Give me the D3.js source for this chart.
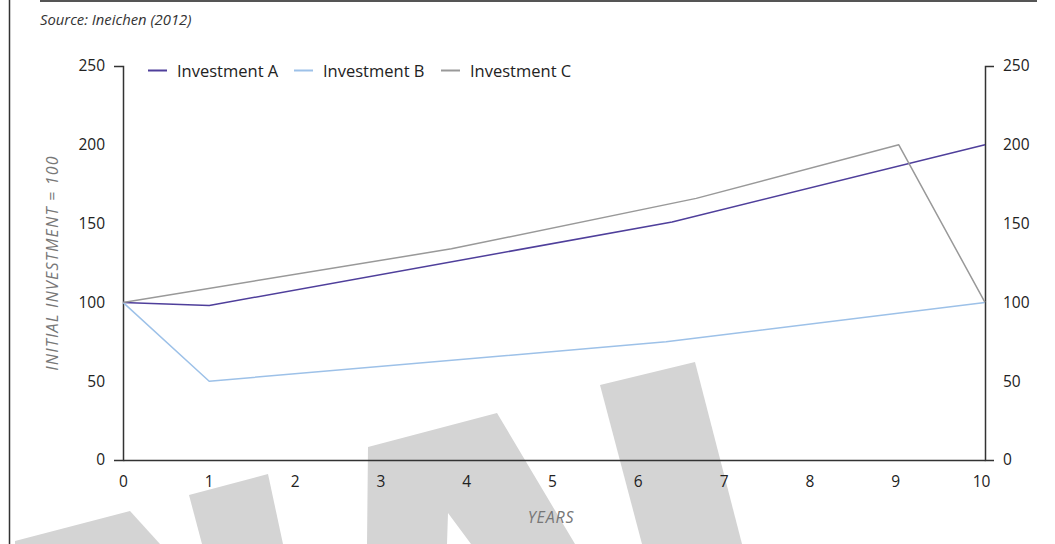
<!DOCTYPE html>
<html>
<head>
<meta charset="utf-8">
<script src="https://cdn.jsdelivr.net/npm/d3@7"></script>
<style>
  html, body { margin: 0; padding: 0; background: #fff; }
  svg { display: block; }
  text { font-family: "Open Sans", "Noto Sans", sans-serif; }
</style>
</head>
<body>
<svg id="chart" width="1055" height="544"></svg>
<script>
// ---- data ----
const seriesNames = ["Investment A", "Investment B", "Investment C"];
const yearsA = [0, 1, 6.37, 10];
const valuesA = [100, 98, 151, 200];
const yearsB = [0, 1, 6.3, 10];
const valuesB = [100, 50, 75, 100];
const yearsC = [0, 3.81, 6.65, 9, 10];
const valuesC = [100, 134, 166, 200, 100];
const xTicks = [0, 1, 2, 3, 4, 5, 6, 7, 8, 9, 10];
const yTicks = [0, 50, 100, 150, 200, 250];
const sourceText = "Source: Ineichen (2012)";
const xTitle = "YEARS";
const yTitle = "INITIAL INVESTMENT = 100";

const colors = ["#4f3f9b", "#9dc1e8", "#999999"];

const svg = d3.select("#chart");

// decorative watermark (background, not data)
const wm = svg.append("g").attr("fill", "#d4d4d4");
[
  [[15,544],[15,541],[130,511],[160,544]],
  [[202,544],[189,495],[268,474],[283,544]],
  [[367,544],[368,447],[497,413],[575,544],[471,544],[448,513],[447,544]],
  [[642,544],[600,385],[695,362],[742,544]]
].forEach(p => wm.append("path").attr("d", d3.line()(p)));

// frame lines
svg.append("line").attr("x1", 40).attr("x2", 1037).attr("y1", 1).attr("y2", 1)
  .attr("stroke", "#555").attr("stroke-width", 2);
svg.append("line").attr("x1", 9.5).attr("x2", 9.5).attr("y1", 0).attr("y2", 544)
  .attr("stroke", "#333").attr("stroke-width", 1.5);

svg.append("text").attr("x", 40).attr("y", 25)
  .attr("font-size", 14.8).attr("font-style", "italic").attr("fill", "#333")
  .text(sourceText);

const x = d3.scaleLinear().domain([0, 10]).range([123, 985]);
const y = d3.scaleLinear().domain([0, 250]).range([460, 66]);

const tickFont = 15.5;

// x axis
const gx = svg.append("g").attr("transform", "translate(0,460)")
  .call(d3.axisBottom(x).tickValues(xTicks).tickSizeInner(0).tickSizeOuter(0).tickPadding(16).tickFormat(d3.format("d")));
gx.select(".domain").attr("stroke", "#333").attr("stroke-width", 1.5);
gx.selectAll("text").attr("font-size", tickFont).attr("fill", "#222")
  .attr("font-family", '"Open Sans", sans-serif')
  .attr("dx", d => -d * 0.4);

// left axis
const gl = svg.append("g").attr("transform", "translate(123,0)")
  .call(d3.axisLeft(y).tickValues(yTicks).tickSizeInner(0).tickSizeOuter(9).tickPadding(18));
gl.select(".domain").attr("stroke", "#333").attr("stroke-width", 1.5);
gl.selectAll("text").attr("font-size", tickFont).attr("fill", "#222").attr("font-family", '"Open Sans", sans-serif');

// right axis
const gr = svg.append("g").attr("transform", "translate(985,0)")
  .call(d3.axisRight(y).tickValues(yTicks).tickSizeInner(0).tickSizeOuter(9).tickPadding(18));
gr.select(".domain").attr("stroke", "#333").attr("stroke-width", 1.5);
gr.selectAll("text").attr("font-size", tickFont).attr("fill", "#222").attr("font-family", '"Open Sans", sans-serif');

// axis titles
svg.append("text").attr("x", 551).attr("y", 523).attr("text-anchor", "middle")
  .attr("font-size", 16).attr("letter-spacing", 0.8).attr("font-style", "italic").attr("fill", "#777").text(xTitle);
svg.append("text").attr("transform", "translate(58,263) rotate(-90)").attr("text-anchor", "middle")
  .attr("font-size", 16).attr("letter-spacing", 1.2).attr("font-style", "italic").attr("fill", "#777").text(yTitle);

// lines
const series = [
  yearsA.map((d, i) => [d, valuesA[i]]),
  yearsB.map((d, i) => [d, valuesB[i]]),
  yearsC.map((d, i) => [d, valuesC[i]])
];
const line = d3.line().x(d => x(d[0])).y(d => y(d[1]));
series.forEach((s, i) => {
  svg.append("path").datum(s).attr("d", line)
    .attr("fill", "none").attr("stroke", colors[i]).attr("stroke-width", 1.5)
    .attr("stroke-linejoin", "round");
});

// legend
const legendX = [148, 294, 441];
const lg = svg.append("g");
seriesNames.forEach((n, i) => {
  lg.append("line").attr("x1", legendX[i]).attr("x2", legendX[i] + 19)
    .attr("y1", 70.5).attr("y2", 70.5).attr("stroke", colors[i]).attr("stroke-width", 2);
  lg.append("text").attr("x", legendX[i] + 29).attr("y", 76.5)
    .attr("font-size", 16.5).attr("fill", "#222").text(n);
});
</script>
</body>
</html>
